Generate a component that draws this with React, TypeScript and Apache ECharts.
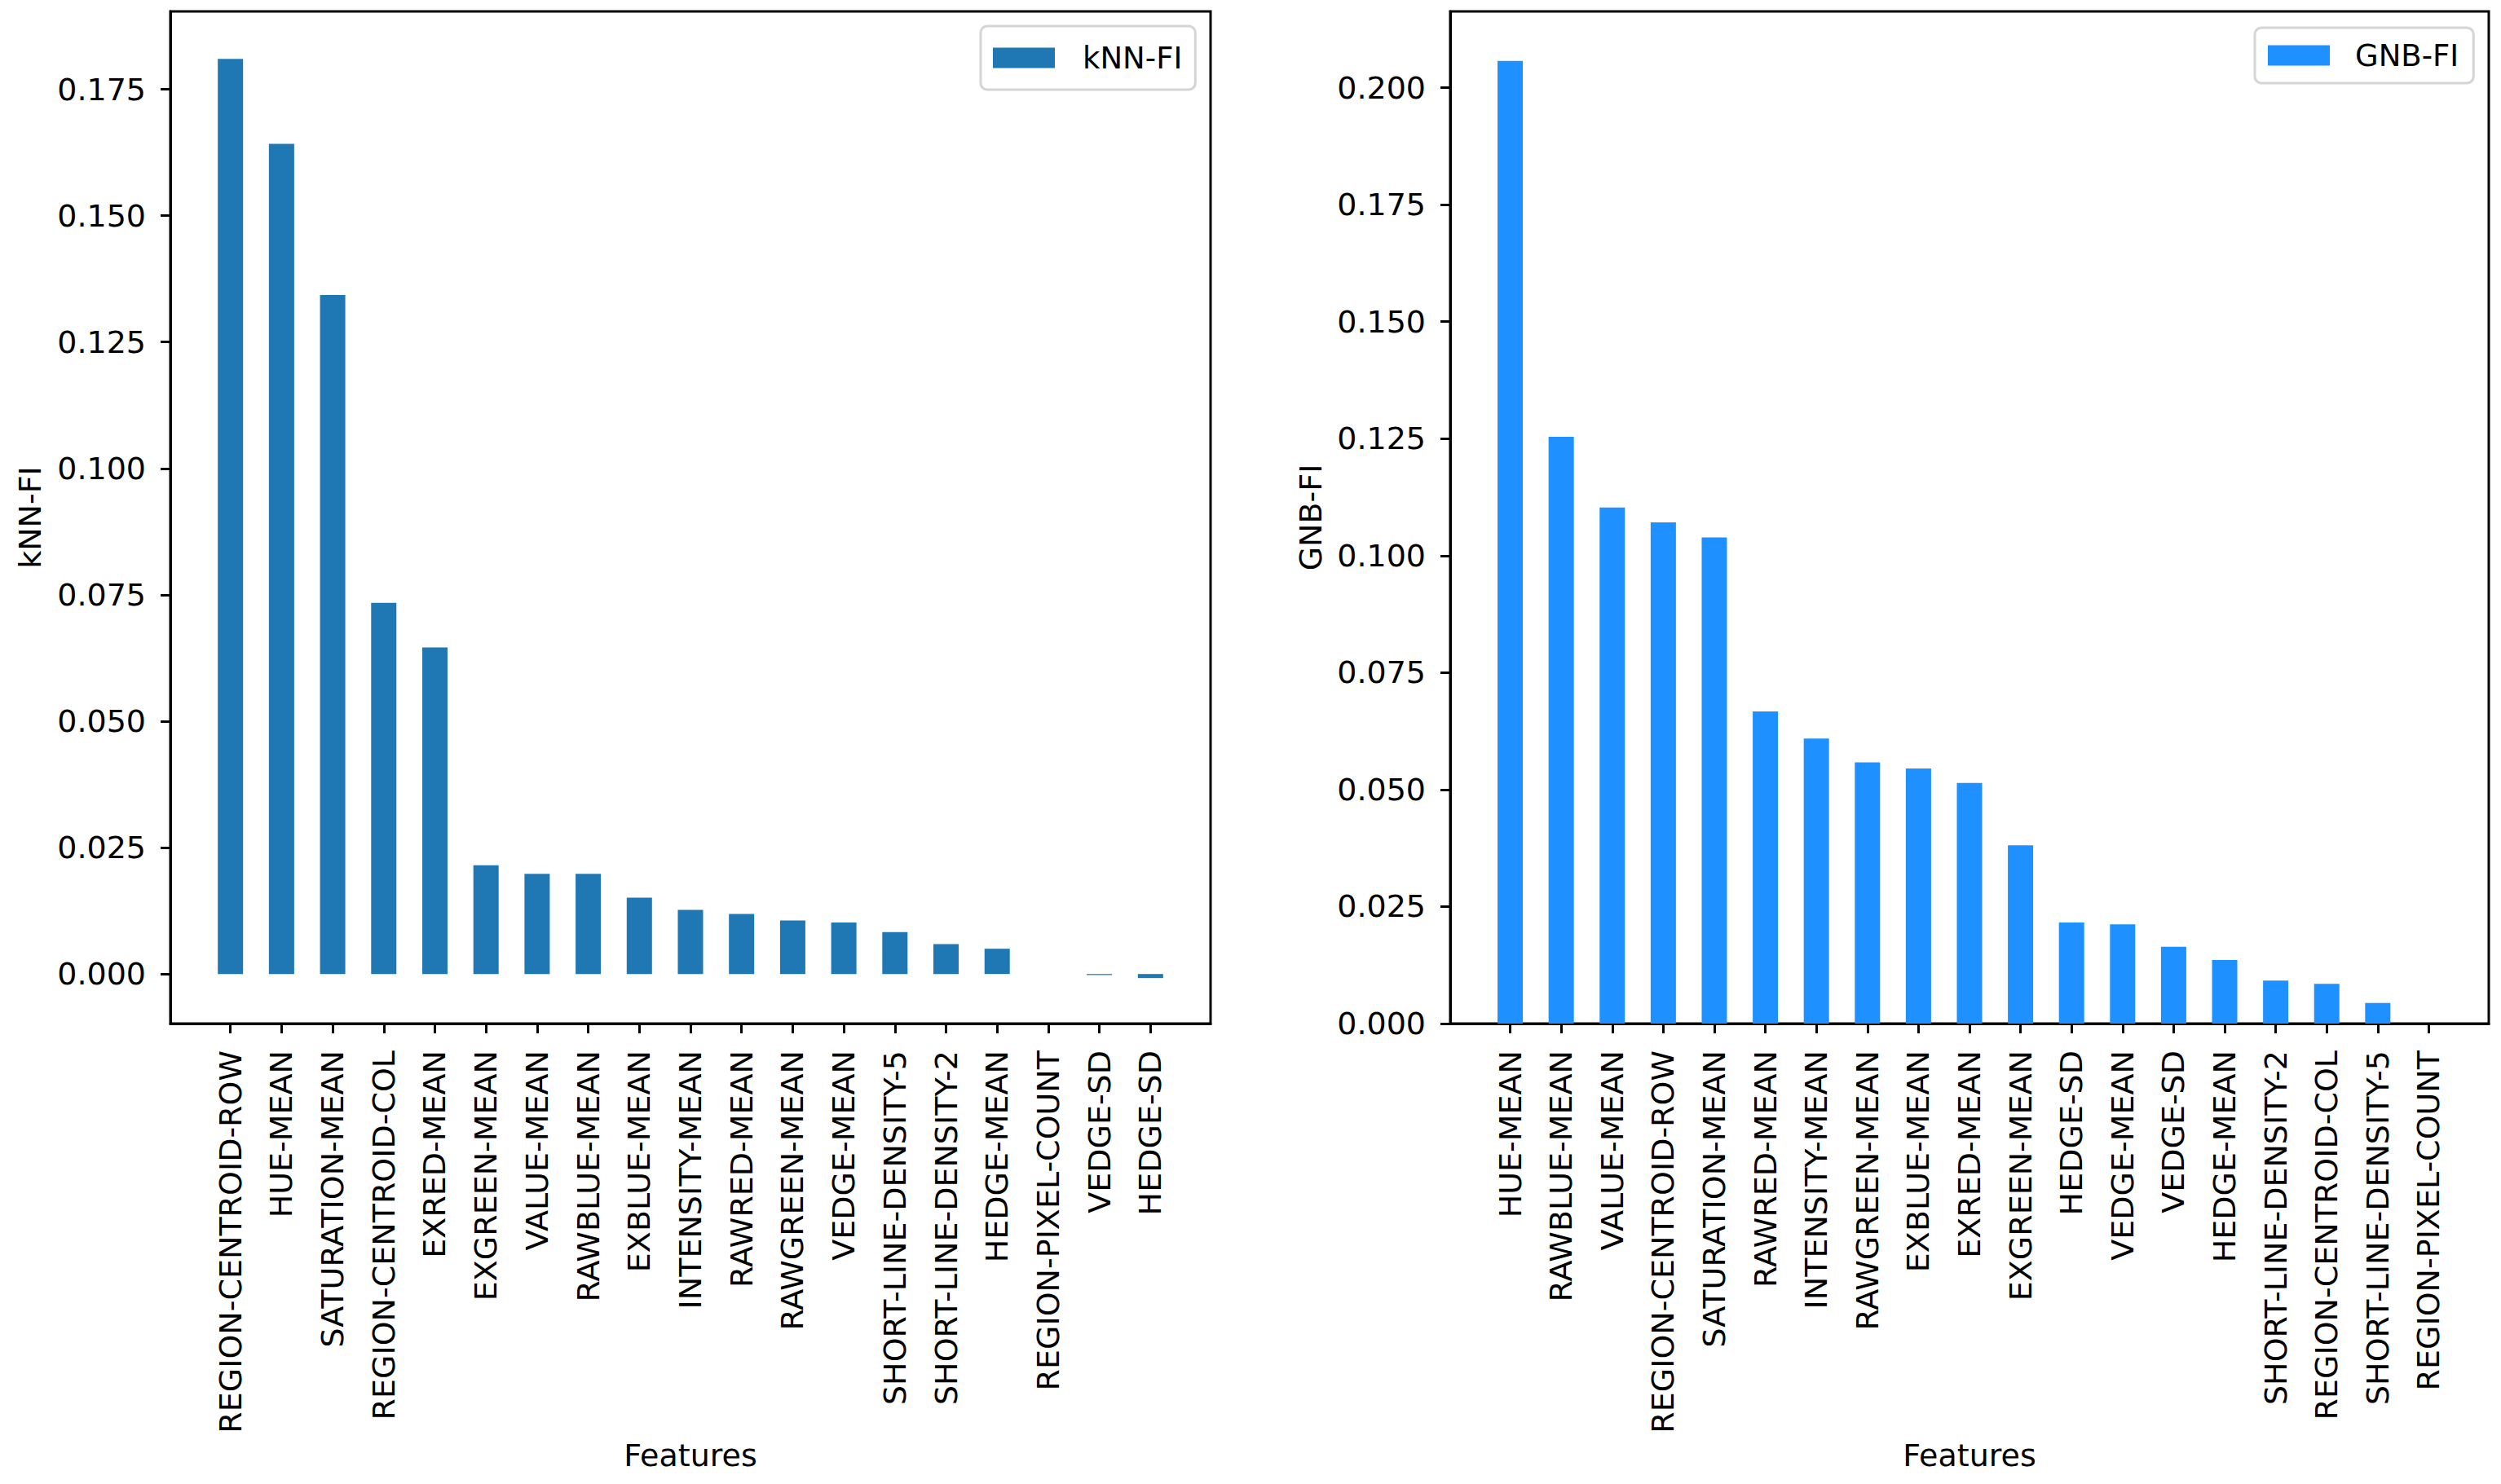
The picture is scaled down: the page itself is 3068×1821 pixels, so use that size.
import React, { useEffect, useRef } from "react";
import * as echarts from "echarts";

const W = 3068;
const H = 1821;

const kCategories = [
  "REGION-CENTROID-ROW", "HUE-MEAN", "SATURATION-MEAN", "REGION-CENTROID-COL", "EXRED-MEAN",
  "EXGREEN-MEAN", "VALUE-MEAN", "RAWBLUE-MEAN", "EXBLUE-MEAN", "INTENSITY-MEAN",
  "RAWRED-MEAN", "RAWGREEN-MEAN", "VEDGE-MEAN", "SHORT-LINE-DENSITY-5", "SHORT-LINE-DENSITY-2",
  "HEDGE-MEAN", "REGION-PIXEL-COUNT", "VEDGE-SD", "HEDGE-SD",
];
const kValues = [
  0.1810, 0.1642, 0.1343, 0.0734, 0.0646,
  0.0215, 0.0198, 0.0198, 0.0151, 0.0127,
  0.0119, 0.0106, 0.0102, 0.0083, 0.0059,
  0.0050, 0.0, -0.0002, -0.0008,
];
const kTicks = [0, 0.025, 0.05, 0.075, 0.1, 0.125, 0.15, 0.175];

const gCategories = [
  "HUE-MEAN", "RAWBLUE-MEAN", "VALUE-MEAN", "REGION-CENTROID-ROW", "SATURATION-MEAN",
  "RAWRED-MEAN", "INTENSITY-MEAN", "RAWGREEN-MEAN", "EXBLUE-MEAN", "EXRED-MEAN",
  "EXGREEN-MEAN", "HEDGE-SD", "VEDGE-MEAN", "VEDGE-SD", "HEDGE-MEAN",
  "SHORT-LINE-DENSITY-2", "REGION-CENTROID-COL", "SHORT-LINE-DENSITY-5", "REGION-PIXEL-COUNT",
];
const gValues = [
  0.2057, 0.1254, 0.1103, 0.1071, 0.1039,
  0.0667, 0.0609, 0.0558, 0.0545, 0.0514,
  0.0381, 0.0216, 0.0212, 0.0164, 0.0136,
  0.0092, 0.0085, 0.0044, 0.0,
];
const gTicks = [0, 0.025, 0.05, 0.075, 0.1, 0.125, 0.15, 0.175, 0.2];

const FONT = "DejaVu Sans";
const FS = 38;

function xAxisFor(gridIndex: number, cats: string[]) {
  const idx = cats.map((_, i) => i);
  return {
    type: "value",
    gridIndex,
    min: -1.175,
    max: 19.175,
    splitLine: { show: false },
    axisLine: { show: true, onZero: false, lineStyle: { color: "#000", width: 3 } },
    axisTick: { show: true, customValues: idx, length: 12, lineStyle: { color: "#000", width: 3 } },
    axisLabel: {
      customValues: idx,
      formatter: (v: number) => cats[Math.round(v)] ?? "",
      rotate: 90,
      margin: 33,
      fontSize: FS,
      fontFamily: FONT,
      color: "#000",
    },
    name: "Features",
    nameLocation: "middle",
    nameGap: 505,
    nameTextStyle: { fontSize: FS, fontFamily: FONT, color: "#000" },
  };
}

function yAxisFor(gridIndex: number, min: number, max: number, ticks: number[], name: string, nameGap: number) {
  return {
    type: "value",
    gridIndex,
    min,
    max,
    splitLine: { show: false },
    axisLine: { show: true, onZero: false, lineStyle: { color: "#000", width: 3 } },
    axisTick: { show: true, customValues: ticks, length: 12, lineStyle: { color: "#000", width: 3 } },
    axisLabel: {
      customValues: ticks,
      formatter: (v: number) => v.toFixed(3),
      margin: 30,
      fontSize: FS,
      fontFamily: FONT,
      color: "#000",
    },
    name,
    nameLocation: "middle",
    nameRotate: 90,
    nameGap,
    nameTextStyle: { fontSize: FS, fontFamily: FONT, color: "#000" },
  };
}

function legendFor(name: string, left: number, top: number, padding: number[], textPad: number) {
  return {
    data: [name],
    left,
    top,
    orient: "vertical",
    icon: "rect",
    itemWidth: 76,
    itemHeight: 25,
    padding,
    borderColor: "#d5d5d5",
    borderWidth: 3,
    borderRadius: 8,
    backgroundColor: "#fff",
    selectedMode: false,
    textStyle: {
      fontSize: 37,
      fontFamily: FONT,
      color: "#000",
      lineHeight: 40,
      padding: [0, 0, 0, textPad],
    },
  };
}

export default function App() {
  const ref = useRef<HTMLDivElement>(null);
  useEffect(() => {
    document.body.style.margin = "0";
    const chart = echarts.init(ref.current!, null, { renderer: "svg", width: W, height: H });
    const option = {
      animation: false,
      backgroundColor: "#fff",
      grid: [
        { left: 209, top: 14, width: 1276, height: 1242, show: true, borderColor: "#000", borderWidth: 3, backgroundColor: "transparent", containLabel: false, outerBoundsMode: "none" },
        { left: 1779, top: 14, width: 1274, height: 1242, show: true, borderColor: "#000", borderWidth: 3, backgroundColor: "transparent", containLabel: false, outerBoundsMode: "none" },
      ],
      xAxis: [xAxisFor(0, kCategories), xAxisFor(1, gCategories)],
      yAxis: [
        yAxisFor(0, -0.0098, 0.1904, kTicks, "kNN-FI", 153),
        yAxisFor(1, 0, 0.2163, gTicks, "GNB-FI", 152),
      ],
      legend: [
        legendFor("kNN-FI", 1203, 32, [19, 16, 19, 15], 29),
        legendFor("GNB-FI", 2766, 34, [14, 18, 14, 16], 26),
      ],
      series: [
        {
          name: "kNN-FI",
          type: "bar",
          xAxisIndex: 0,
          yAxisIndex: 0,
          barWidth: 31,
          itemStyle: { color: "#1f77b4" },
          data: kValues.map((v, i) => [i, v]),
        },
        {
          name: "GNB-FI",
          type: "bar",
          xAxisIndex: 1,
          yAxisIndex: 1,
          barWidth: 31,
          itemStyle: { color: "#1e90ff" },
          data: gValues.map((v, i) => [i, v]),
        },
      ],
    };
    chart.setOption(option as any);
    return () => chart.dispose();
  }, []);
  return (
    <div
      ref={ref}
      style={{ position: "absolute", left: 0, top: 0, width: W, height: H, background: "#fff" }}
    />
  );
}
